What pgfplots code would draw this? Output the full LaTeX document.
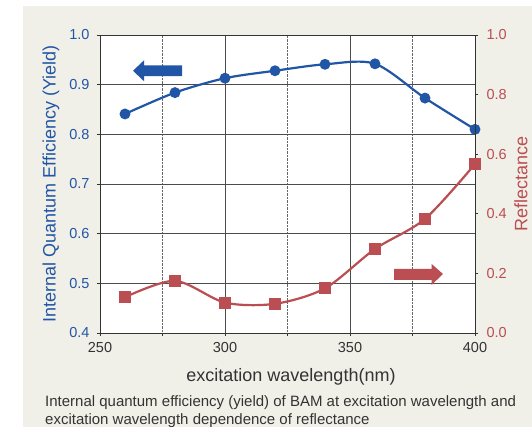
\documentclass[border=0pt]{standalone}
\usepackage{pgfplots}
\pgfplotsset{compat=1.18}
\usepackage{fontspec}
\setmainfont{Liberation Sans}

\definecolor{yieldblue}{RGB}{33,86,166}
\definecolor{reflred}{RGB}{186,78,82}
\definecolor{panel}{RGB}{241,240,232}
\definecolor{darktext}{RGB}{51,51,51}

\pgfplotsset{
  common/.style={
    at={(0,0)}, anchor=south west,
    scale only axis, width=375pt, height=298pt,
    xmin=250, xmax=400,
    tick align=outside,
    major tick length=3pt, minor tick length=3pt,
    axis line style={darktext, line width=0.8pt},
    tick style={darktext, line width=0.7pt},
    /pgf/number format/assume math mode=true,
    ticklabel style={font=\fontsize{14.5}{16}\selectfont},
  }
}

\begin{document}
\begin{tikzpicture}[x=1pt,y=1pt]
\fill[panel] (-77,-94) rectangle (432,327);
\useasboundingbox (-100,-94) rectangle (432,333);

% left axis: internal quantum efficiency
\begin{axis}[common,
  axis background/.style={fill=white},
  ymin=0.4, ymax=1.0,
  xtick={250,300,350,400}, minor xtick={275,325,375},
  ytick={0.4,0.5,0.6,0.7,0.8,0.9,1.0},
  xtick pos=bottom, ytick pos=left,
  xmajorgrids, xminorgrids, ymajorgrids,
  major grid style={black!70, line width=0.8pt},
  minor grid style={black!60, densely dotted, line width=0.8pt},
  xticklabel style={darktext, yshift=-3pt},
  yticklabel style={yieldblue, xshift=-4pt, /pgf/number format/.cd, fixed, fixed zerofill, precision=1},
]
\addplot[yieldblue, line width=2.2pt, smooth, mark=*, mark size=4.3pt] coordinates {
  (260,0.841) (280,0.884) (300,0.913) (320,0.928)
  (340,0.941) (360,0.942) (380,0.873) (400,0.810)
};
\fill[yieldblue] (axis cs:263.2,0.928) -- (axis cs:267.6,0.949) -- (axis cs:267.6,0.939)
  -- (axis cs:282.8,0.939) -- (axis cs:282.8,0.917) -- (axis cs:267.6,0.917)
  -- (axis cs:267.6,0.907) -- cycle;
\end{axis}

% right axis: reflectance
\begin{axis}[common,
  ymin=0, ymax=1,
  axis x line=none, axis y line*=right,
  ytick={0,0.2,0.4,0.6,0.8,1.0},
  yticklabel style={reflred, xshift=5pt, /pgf/number format/.cd, fixed, fixed zerofill, precision=1},
]
\addplot[reflred, line width=2.2pt, smooth, mark=square*, mark size=4.8pt] coordinates {
  (260,0.120) (280,0.175) (300,0.102) (320,0.098)
  (340,0.150) (360,0.282) (380,0.383) (400,0.567)
};
\fill[reflred] (axis cs:387.2,0.198) -- (axis cs:382.6,0.232) -- (axis cs:382.6,0.215)
  -- (axis cs:367.6,0.215) -- (axis cs:367.6,0.178) -- (axis cs:382.6,0.178)
  -- (axis cs:382.6,0.161) -- cycle;
\end{axis}

\node[rotate=90, yieldblue, font=\fontsize{18}{20}\selectfont] at (-49,149) {Internal Quantum Efficiency (Yield)};
\node[rotate=90, reflred, font=\fontsize{18}{20}\selectfont] at (421,149) {Reflectance};
\node[darktext, font=\fontsize{18}{20}\selectfont] at (191,-44) {excitation wavelength(nm)};
\node[darktext, font=\fontsize{15}{17.5}\selectfont, anchor=north west, align=left, inner sep=0pt]
  at (-55,-62.5) {Internal quantum efficiency (yield) of BAM at excitation wavelength and\\excitation wavelength dependence of reflectance};
\end{tikzpicture}
\end{document}
